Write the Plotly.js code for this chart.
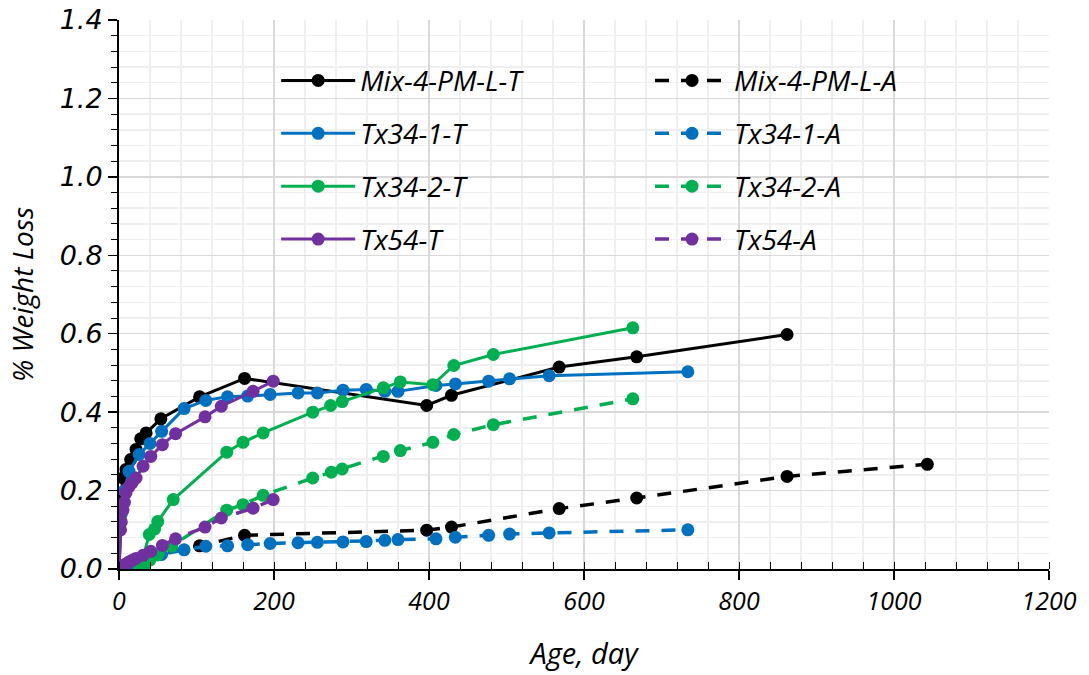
<!DOCTYPE html>
<html>
<head>
<meta charset="utf-8">
<script src="https://cdn.plot.ly/plotly-3.0.1.min.js"></script>
<style>html,body{margin:0;padding:0;background:#fff;}#chart{width:1089px;height:675px;}</style>
</head>
<body>
<div id="chart"></div>
<script>
// ---- data ----
const mixT_x = [0, 3, 5, 9, 15, 22, 28, 35, 54, 104, 162, 397, 429, 568, 668, 862];
const mixT_y = [0, 0.19, 0.232, 0.254, 0.279, 0.305, 0.332, 0.347, 0.383, 0.439, 0.486, 0.417, 0.443, 0.515, 0.541, 0.598];
const mixA_x = [0, 3, 5, 9, 15, 22, 28, 35, 54, 104, 162, 397, 429, 568, 668, 862, 1043];
const mixA_y = [0, 0.003, 0.006, 0.01, 0.015, 0.02, 0.025, 0.03, 0.04, 0.059, 0.086, 0.099, 0.107, 0.154, 0.181, 0.236, 0.267];

const tx1T_x = [0, 3, 7, 13, 26, 40, 55, 84, 112, 140, 166, 195, 231, 256, 289, 319, 343, 360, 409, 434, 477, 504, 555, 734];
const tx1T_y = [0, 0.14, 0.2, 0.249, 0.292, 0.32, 0.351, 0.409, 0.43, 0.439, 0.441, 0.445, 0.449, 0.449, 0.456, 0.458, 0.453, 0.453, 0.468, 0.472, 0.479, 0.485, 0.493, 0.503];
const tx1A_x = [0, 3, 7, 13, 26, 40, 55, 84, 112, 140, 166, 195, 231, 256, 289, 319, 343, 360, 409, 434, 477, 504, 555, 734];
const tx1A_y = [0, 0.003, 0.006, 0.01, 0.018, 0.027, 0.037, 0.049, 0.058, 0.059, 0.062, 0.065, 0.067, 0.068, 0.069, 0.07, 0.073, 0.075, 0.077, 0.081, 0.086, 0.089, 0.092, 0.1];

const tx2T_x = [27, 39, 46, 50, 70, 139, 160, 186, 250, 273, 288, 341, 363, 405, 432, 483, 663];
const tx2T_y = [0, 0.088, 0.102, 0.121, 0.177, 0.298, 0.323, 0.347, 0.4, 0.417, 0.427, 0.462, 0.477, 0.47, 0.519, 0.547, 0.615];
const tx2A_x = [27, 33, 40, 50, 68, 139, 160, 186, 250, 274, 288, 341, 363, 405, 432, 483, 663];
const tx2A_y = [0, 0.004, 0.023, 0.036, 0.058, 0.15, 0.164, 0.188, 0.232, 0.247, 0.255, 0.287, 0.302, 0.323, 0.343, 0.368, 0.434];

const tx54T_x = [0, 2, 3, 5, 7, 9, 13, 17, 22, 31, 41, 56, 73, 111, 132, 173, 199];
const tx54T_y = [0, 0.1, 0.12, 0.15, 0.17, 0.194, 0.21, 0.22, 0.232, 0.262, 0.287, 0.317, 0.345, 0.388, 0.415, 0.453, 0.479];
const tx54A_x = [0, 2, 3, 5, 7, 9, 13, 17, 22, 31, 41, 56, 73, 111, 132, 173, 199];
const tx54A_y = [0, 0.003, 0.005, 0.008, 0.01, 0.013, 0.018, 0.022, 0.027, 0.035, 0.045, 0.06, 0.077, 0.107, 0.13, 0.155, 0.177];

const names = ['Mix-4-PM-L-T', 'Mix-4-PM-L-A', 'Tx34-1-T', 'Tx34-1-A', 'Tx34-2-T', 'Tx34-2-A', 'Tx54-T', 'Tx54-A'];
const colors = ['#000000', '#0070C0', '#00B050', '#7030A0'];

const xTickVals = [0, 200, 400, 600, 800, 1000, 1200];
const yTickVals = [0, 0.2, 0.4, 0.6, 0.8, 1.0, 1.2, 1.4];

// ---- traces ----
const series = [
  [mixT_x, mixT_y, mixA_x, mixA_y],
  [tx1T_x, tx1T_y, tx1A_x, tx1A_y],
  [tx2T_x, tx2T_y, tx2A_x, tx2A_y],
  [tx54T_x, tx54T_y, tx54A_x, tx54A_y]
];
const traces = [];
series.forEach((s, i) => {
  traces.push({
    x: s[0], y: s[1], name: names[2*i], type: 'scatter', mode: 'lines+markers',
    line: {color: colors[i], width: 3}, marker: {color: colors[i], size: 13},
    legend: 'legend', legendgroup: 'T' + i
  });
  traces.push({
    x: s[2], y: s[3], name: names[2*i+1], type: 'scatter', mode: 'lines+markers',
    line: {color: colors[i], width: 3.5, dash: '14px,12px'}, marker: {color: colors[i], size: 13},
    legend: 'legend2', legendgroup: 'A' + i
  });
});

const legendFont = {family: 'Open Sans', size: 28, color: '#000', style: 'italic'};
const layout = {
  width: 1089, height: 675,
  margin: {l: 119, r: 40, t: 20, b: 106},
  paper_bgcolor: '#fff', plot_bgcolor: '#fff',
  showlegend: true,
  legend: {x: 0.169, y: 0.935, xanchor: 'left', yanchor: 'top', bgcolor: 'rgba(0,0,0,0)',
    font: legendFont, itemwidth: 74, tracegroupgap: 13.5, traceorder: 'grouped'},
  legend2: {x: 0.571, y: 0.935, xanchor: 'left', yanchor: 'top', bgcolor: 'rgba(0,0,0,0)',
    font: legendFont, itemwidth: 74, tracegroupgap: 13.5, traceorder: 'grouped'},
  xaxis: {
    range: [0, 1200], tickvals: xTickVals, ticktext: xTickVals.map(String),
    showline: true, linecolor: '#000', linewidth: 2, mirror: false,
    ticks: 'outside', ticklen: 9, tickwidth: 1.5, tickcolor: '#000',
    showgrid: true, gridcolor: '#d9d9d9', gridwidth: 1.5, zeroline: false,
    minor: {dtick: 40, showgrid: true, gridcolor: '#efefef', gridwidth: 1.5, ticks: 'inside', ticklen: 7, tickcolor: '#000', tickwidth: 1},
    tickfont: {family: 'Open Sans', size: 25, color: '#000', style: 'italic'},
    title: {text: 'Age, day', font: {family: 'Open Sans', size: 29, color: '#000', style: 'italic'}, standoff: 28}
  },
  yaxis: {
    range: [0, 1.4], tickvals: yTickVals, ticktext: yTickVals.map(v => v.toFixed(1)),
    showline: true, linecolor: '#000', linewidth: 2,
    ticks: 'outside', ticklen: 9, tickwidth: 1.5, tickcolor: '#000',
    showgrid: true, gridcolor: '#d9d9d9', gridwidth: 1.5, zeroline: false,
    minor: {dtick: 0.04, showgrid: true, gridcolor: '#efefef', gridwidth: 1.5, ticks: 'outside', ticklen: 6, tickcolor: '#000', tickwidth: 1},
    tickfont: {family: 'DejaVu Sans', size: 27, color: '#000', style: 'italic'},
    title: {text: '% Weight Loss', font: {family: 'Open Sans', size: 28, color: '#000', style: 'italic'}, standoff: 18}
  }
};

Plotly.newPlot('chart', traces, layout, {displayModeBar: false, staticPlot: true});
</script>
</body>
</html>
